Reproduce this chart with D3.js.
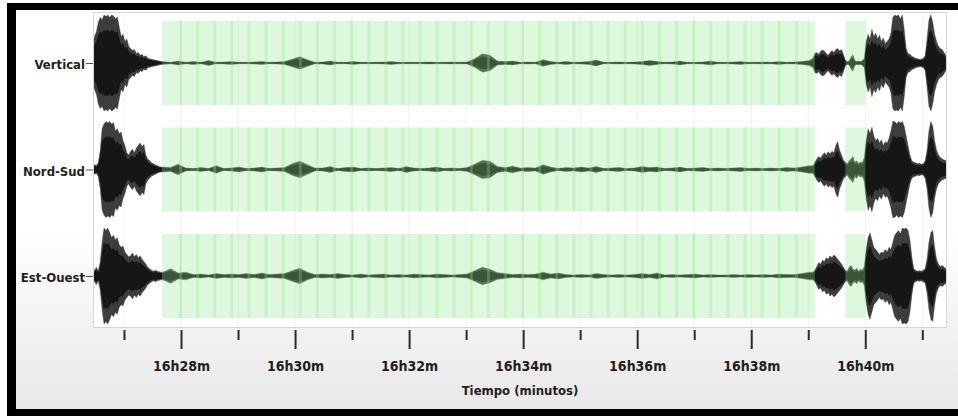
<!DOCTYPE html>
<html><head><meta charset="utf-8">
<script src="https://cdn.jsdelivr.net/npm/d3@7"></script>
<style>html,body{margin:0;padding:0;background:#fff;} svg{display:block;}</style>
</head><body>
<svg id="chart" width="958" height="416"></svg>
<script>
// ---------- DATA ----------
const components = ["Vertical", "Nord-Sud", "Est-Ouest"];

// sample times, seconds after 16h26m00s
const timeSec = [
 27,29,31,33,35,37,39,41,43,45,47,49,51,53,55,57,59,61,63,65,67,69,71,73,75,77,79,81,83,85,87,89,91,93,95,97,99,
 101,109,117,125,133,141,149,157,165,173,181,189,197,205,213,221,229,237,245,253,261,269,277,285,293,301,309,317,325,333,
 341,349,357,365,373,381,389,397,405,413,421,429,437,445,453,461,469,477,485,493,501,509,517,525,533,541,549,557,565,573,
 581,589,597,605,613,621,629,637,645,653,661,669,677,685,693,701,709,717,725,733,741,749,757,765,773,781,
 785,787,789,791,793,795,797,799,801,803,805,807,809,811,813,815,817,819,821,823,825,827,829,831,833,835,837,839,841,843,
 845,847,849,851,853,855,857,859,861,863,865,867,869,871,873,875,877,879,881,883,885,887,889,891,893,895,897,899,901,903,
 905,907,909,911,913,915,917,919,921,923,925
];

// envelope amplitudes (normalised, 1 = full scale)
const vertical = [
 0.4,0.55,0.65,0.85,0.95,0.9,1.0,0.97,1.0,0.95,1.0,0.98,0.92,0.96,0.75,0.55,0.6,0.45,0.5,0.35,0.3,0.26,0.28,0.2,0.22,0.16,0.18,0.13,0.15,0.1,0.09,0.08,0.07,0.06,0.05,0.04,0.03,
 0.03,0.015,0.04,0.015,0.03,0.015,0.05,0.015,0.02,0.03,
 0.015,0.015,0.02,0.03,0.015,0.02,0.03,0.08,0.13,0.07,
 0.015,0.02,0.04,0.015,0.015,0.03,0.015,0.015,0.015,0.02,
 0.03,0.015,0.015,0.015,0.015,0.02,0.015,0.015,0.02,0.015,
 0.02,0.09,0.19,0.16,0.04,0.03,0.04,0.015,0.02,0.015,
 0.07,0.03,0.015,0.03,0.015,0.02,0.03,0.06,0.015,0.015,
 0.02,0.015,0.02,0.03,0.05,0.03,0.015,0.02,0.04,0.015,
 0.015,0.02,0.04,0.015,0.015,0.02,0.03,0.015,0.015,0.02,
 0.015,0.03,0.015,0.02,0.03,0.05,
 0.1,0.2,0.22,0.18,0.24,0.27,0.25,0.2,0.16,0.22,
 0.26,0.22,0.28,0.3,0.25,0.28,0.18,0.06,0.03,0.04,
 0.12,0.17,0.05,0.03,0.04,0.03,0.05,0.1,0.45,0.6,
 0.5,0.7,0.55,0.62,0.5,0.58,0.45,0.52,0.4,0.45,
 0.5,0.62,0.95,1.0,0.98,1.0,0.92,1.0,0.7,0.3,
 0.2,0.18,0.14,0.12,0.1,0.09,0.08,0.08,0.1,0.15,
 0.5,0.9,1.0,0.85,0.6,0.45,0.35,0.3,0.28,0.22,
 0.15
];
const nordSud = [
 0.05,0.1,0.08,0.15,0.4,0.85,0.95,1.0,0.97,1.0,0.95,0.98,0.8,0.85,0.75,0.78,0.6,0.5,0.35,0.3,0.38,0.42,0.35,0.45,0.5,0.55,0.48,0.52,0.3,0.22,0.18,0.14,0.12,0.1,0.08,0.06,0.05,
 0.05,0.04,0.11,0.03,0.02,0.04,0.02,0.08,0.02,0.03,
 0.05,0.02,0.03,0.05,0.02,0.03,0.04,0.12,0.17,0.1,
 0.03,0.03,0.06,0.02,0.04,0.05,0.02,0.03,0.02,0.03,
 0.04,0.02,0.06,0.03,0.02,0.03,0.05,0.02,0.03,0.02,
 0.04,0.11,0.19,0.17,0.06,0.04,0.07,0.03,0.04,0.03,
 0.1,0.05,0.02,0.04,0.03,0.05,0.03,0.06,0.02,0.03,
 0.04,0.02,0.03,0.06,0.04,0.05,0.02,0.03,0.05,0.02,
 0.03,0.04,0.02,0.03,0.02,0.03,0.04,0.02,0.03,0.02,
 0.03,0.02,0.04,0.03,0.05,0.08,
 0.08,0.15,0.22,0.27,0.24,0.3,0.35,0.3,0.37,0.33,
 0.38,0.35,0.5,0.58,0.4,0.3,0.2,0.15,0.12,0.18,
 0.22,0.27,0.15,0.18,0.12,0.16,0.14,0.25,0.6,0.85,
 0.75,0.88,0.7,0.6,0.65,0.55,0.62,0.5,0.58,0.55,
 0.65,0.8,1.0,1.0,0.95,1.0,0.97,1.0,0.9,0.7,
 0.5,0.3,0.18,0.15,0.14,0.12,0.13,0.11,0.12,0.18,
 0.4,0.8,1.0,0.9,0.6,0.4,0.3,0.25,0.22,0.2,
 0.18
];
const estOuest = [
 0.05,0.12,0.18,0.1,0.3,0.7,1.0,0.95,1.0,0.9,0.8,0.85,0.75,0.8,0.65,0.6,0.62,0.5,0.45,0.4,0.42,0.48,0.4,0.45,0.38,0.42,0.35,0.3,0.25,0.18,0.15,0.12,0.1,0.12,0.1,0.09,0.08,
 0.08,0.15,0.06,0.08,0.03,0.04,0.02,0.05,0.03,0.04,
 0.03,0.05,0.03,0.06,0.03,0.04,0.05,0.11,0.16,0.08,
 0.03,0.04,0.03,0.05,0.03,0.02,0.04,0.02,0.03,0.04,
 0.02,0.03,0.02,0.04,0.03,0.02,0.04,0.03,0.02,0.03,
 0.04,0.11,0.18,0.14,0.07,0.05,0.03,0.04,0.03,0.04,
 0.08,0.04,0.06,0.03,0.02,0.03,0.02,0.05,0.03,0.02,
 0.03,0.02,0.03,0.05,0.03,0.06,0.02,0.03,0.02,0.03,
 0.04,0.02,0.03,0.02,0.02,0.03,0.02,0.03,0.02,0.03,
 0.02,0.04,0.03,0.03,0.05,0.08,
 0.08,0.12,0.2,0.28,0.25,0.33,0.3,0.38,0.35,0.42,
 0.38,0.44,0.4,0.35,0.3,0.25,0.18,0.12,0.1,0.18,
 0.22,0.15,0.12,0.16,0.1,0.14,0.12,0.2,0.55,0.8,
 0.9,0.75,0.6,0.55,0.5,0.45,0.5,0.48,0.55,0.5,
 0.6,0.55,0.7,0.85,0.9,0.95,0.88,1.0,0.98,1.0,
 0.95,0.75,0.4,0.15,0.12,0.1,0.11,0.1,0.12,0.15,
 0.35,0.7,0.9,0.95,0.6,0.35,0.25,0.2,0.22,0.18,
 0.15
];
const traces = [vertical, nordSud, estOuest];

// analysis windows (green), start in seconds after 16h26m00s, 21 s long
const windowStart = [100,118,136,154,172,190,208,226,244,262,280,298,316,334,352,370,388,406,424,442,
  460,478,496,514,532,550,568,586,604,622,640,658,676,694,712,730,748,766, 819];
const windowLength = 21;

// axis ticks (seconds after 16h26m00s)
const minorTicks = [60,180,300,420,540,660,780,900];
const majorTicks = [120,240,360,480,600,720,840];
const majorTickLabels = ["16h28m","16h30m","16h32m","16h34m","16h36m","16h38m","16h40m"];
const axisTitle = "Tiempo (minutos)";

// ---------- DRAW ----------
const svg = d3.select("#chart");
const FONT = "'DejaVu Sans Condensed','DejaVu Sans',sans-serif";
const L = 93, R = 947, T = 12, B = 328;

const defs = svg.append("defs");
const grad = defs.append("linearGradient").attr("id","bg").attr("x1",0).attr("y1",0).attr("x2",0).attr("y2",1);
grad.append("stop").attr("offset","0.55").attr("stop-color","#ffffff");
grad.append("stop").attr("offset","1").attr("stop-color","#e8e8e8");
defs.append("clipPath").attr("id","plotclip").append("rect").attr("x",L).attr("y",T).attr("width",R-L).attr("height",B-T);
defs.append("filter").attr("id","soft").append("feGaussianBlur").attr("stdDeviation",0.4);

// frame
svg.append("rect").attr("width",958).attr("height",416).attr("fill","#fff");
svg.append("rect").attr("x",7).attr("y",3).attr("width",960).attr("height",420).attr("fill","#000");
svg.append("rect").attr("x",16).attr("y",10).attr("width",950).attr("height",399).attr("fill","url(#bg)");
svg.append("rect").attr("x",L).attr("y",T).attr("width",R-L).attr("height",B-T).attr("fill","#fff");

const x = d3.scaleLinear().domain([27.4, 926]).range([L, R]);
const yRow = d3.scalePoint().domain(components).range([63, 276]);
const amp = d3.scaleLinear().domain([-1, 1]).range([48, -48]);      // outer envelope
const ampCore = d3.scaleLinear().domain([-1, 1]).range([33, -33]);  // dense core of the trace

// faint minute grid
svg.append("g").selectAll("line").data(minorTicks.concat(majorTicks)).join("line")
  .attr("x1", d => x(d)).attr("x2", d => x(d)).attr("y1", T).attr("y2", B)
  .attr("stroke", "#f0f0f0").attr("stroke-width", 1);

const plot = svg.append("g").attr("clip-path","url(#plotclip)");

// traces
components.forEach((c, ci) => {
  const yc = yRow(c);
  const mk = s => d3.area()
    .x((d, i) => x(timeSec[i]))
    .y0(d => yc + s(-d))
    .y1(d => yc + s(d));
  const g = plot.append("g").attr("filter", "url(#soft)");
  g.append("path").datum(traces[ci]).attr("d", mk(amp))
    .attr("fill", "#3c3c3c").attr("stroke", "#3c3c3c").attr("stroke-width", 0.4);
  g.append("path").datum(traces[ci]).attr("d", mk(ampCore))
    .attr("fill", "#151515");
});

// green analysis windows over traces
components.forEach(c => {
  const yc = yRow(c);
  plot.append("g").selectAll("rect").data(windowStart).join("rect")
    .attr("x", d => x(d)).attr("width", d => x(d + windowLength) - x(d))
    .attr("y", yc + amp(0.875)).attr("height", amp(-0.875) - amp(0.875))
    .attr("fill", "#8fe88a").attr("fill-opacity", 0.3);
});

// plot border
svg.append("rect").attr("x",L+0.5).attr("y",T+0.5).attr("width",R-L-1).attr("height",B-T-1)
  .attr("fill","none").attr("stroke","#d6d6d6").attr("stroke-width",1);

// y axis
const yAxis = svg.append("g").attr("transform", `translate(${L},0)`)
  .call(d3.axisLeft(yRow).tickSize(7).tickPadding(1));
yAxis.select(".domain").remove();
yAxis.selectAll("line").attr("stroke", "#555");
yAxis.selectAll("text").attr("font-family", FONT).attr("font-weight", "bold")
  .attr("font-size", 13).attr("fill", "#1e1e1e").attr("dy", "0.45em");

// x axis minor
const xMinor = svg.append("g").attr("transform", `translate(0,${B+2})`)
  .call(d3.axisBottom(x).tickValues(minorTicks).tickSize(10).tickFormat(""));
xMinor.select(".domain").remove();
xMinor.selectAll("line").attr("stroke", "#2a2a2a").attr("stroke-width", 2);

// x axis major
const xMajor = svg.append("g").attr("transform", `translate(0,${B+2})`)
  .call(d3.axisBottom(x).tickValues(majorTicks).tickSize(19).tickPadding(12)
        .tickFormat((d, i) => majorTickLabels[i]));
xMajor.select(".domain").remove();
xMajor.selectAll("line").attr("stroke", "#2a2a2a").attr("stroke-width", 2);
xMajor.selectAll("text").attr("font-family", FONT).attr("font-weight", "bold")
  .attr("font-size", 14).attr("fill", "#1e1e1e");

// axis title
svg.append("text").attr("x", (L + R) / 2).attr("y", 395).attr("text-anchor", "middle")
  .attr("font-family", FONT).attr("font-weight", "bold").attr("font-size", 13)
  .attr("fill", "#1e1e1e").text(axisTitle);
</script>
</body></html>
